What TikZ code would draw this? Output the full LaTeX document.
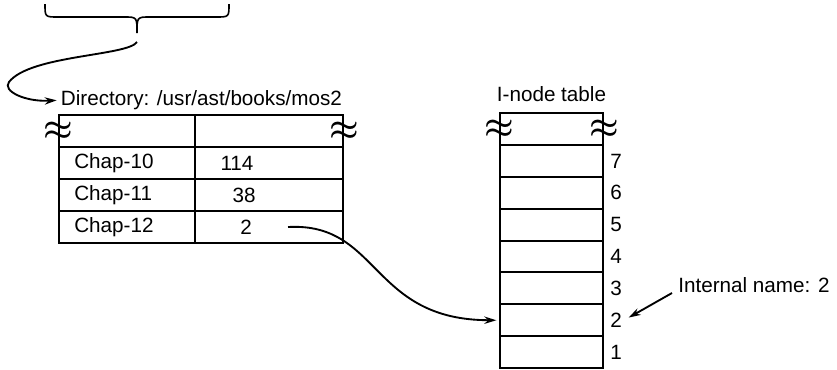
\documentclass[tikz,border=0pt]{standalone}
\usepackage{fontspec}
\setmainfont{Liberation Sans}
\usetikzlibrary{arrows.meta, positioning}

\begin{document}
\begin{tikzpicture}[x=0.75pt, y=-0.75pt,
                    txt/.style={font=\fontsize{15.5}{18}\selectfont, inner sep=0pt},
                    cell/.style={draw, line width=1.5pt, minimum width=#1, minimum height=24pt, inner sep=0pt},
                    slot/.style={draw, line width=1.5pt, minimum width=77.25pt, minimum height=23.9pt, inner sep=0pt},
                    brk/.style={font=\fontsize{26}{26}\selectfont\boldmath, inner sep=0pt},
                    ptr/.style={-{Stealth[length=9pt, width=5.5pt]}, line width=1.4pt}]
    \useasboundingbox (0,0) rectangle (837,369);
    % brace over the path components
    \draw[line width=1.2pt] (45,4) .. controls (45,17) .. (58,17) -- (124,17) .. controls (137,17) .. (137,33)
                            .. controls (137,17) .. (150,17) -- (216,17) .. controls (229,17) .. (229,4);
    \coordinate (tail) at (137,42);
    % directory
    \node[cell=102pt] (n0) at (127,131) {};
    \node[cell=111pt] (v0) at (269,131) {};
    \node[brk] at (n0.west) {$\approx$};
    \node[brk] at (v0.east) {$\approx$};
    \foreach \k/\y/\nm/\num/\x in {10/163/Chap-10/114/237, 11/195/Chap-11/38/244, 12/227/Chap-12/2/246} {
        \node[cell=102pt] (n\k) at (127,\y) {};
        \node[cell=111pt] (v\k) at (269,\y) {};
        \node[txt, right=12pt of n\k.west] {\nm};
        \node[txt] (num\k) at (\x,\y) {\num};
    }
    \node[txt, above right=3pt and 2pt of n0.north west] (dirlabel) {Directory: /usr/ast/books/mos2};
    % i-node table
    \node[slot] (itop) at (551.5,129) {};
    \node[brk] at (itop.west) {$\approx$};
    \node[brk] at (itop.east) {$\approx$};
    \foreach \i in {1,...,7} {
        \node[slot] (slot\i) at (551.5,{145+(7.5-\i)*31.86}) {};
        \node[txt, right=4.5pt of slot\i.east] (idx\i) {\i};
    }
    \node[txt, above=7.5pt of itop] (itlabel) {I-node table};
    \node[txt, anchor=west] (internal) at (678,285) {Internal name: 2};
    % pointers
    \draw[ptr, shorten >=3pt] (tail) .. controls (128,56) and (30,55) .. (9,82) .. controls (2,91) and (25,102) .. (dirlabel.west);
    \draw[ptr, shorten >=2pt] ([xshift=27pt]num12.east) .. controls (380,222) and (370,320) .. (slot2.west);
    \draw[ptr] ([xshift=-4.5pt, yshift=-6pt]internal.west) -- ([xshift=5pt, yshift=2pt]idx2.east);
\end{tikzpicture}
\end{document}
